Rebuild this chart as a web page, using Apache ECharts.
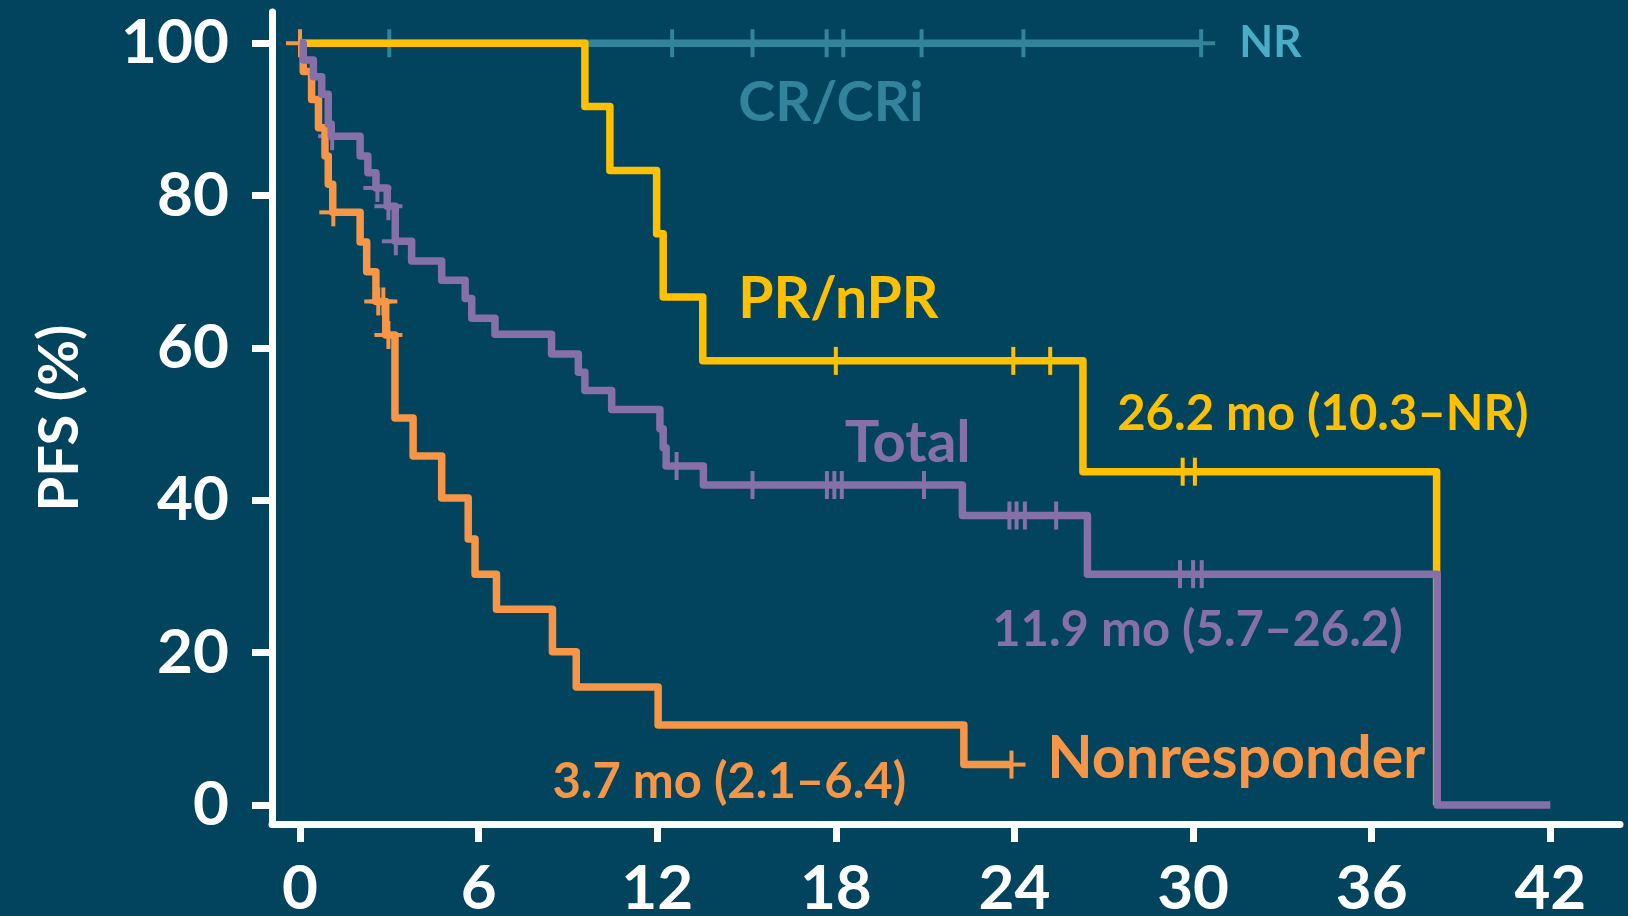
<!DOCTYPE html>
<html>
<head>
<meta charset="utf-8">
<title>PFS by response</title>
<script src="https://cdn.jsdelivr.net/npm/echarts@6/dist/echarts.min.js"></script>
<style>
  html, body { margin: 0; padding: 0; background: #02445E; }
  #chart { width: 1628px; height: 916px; }
</style>
</head>
<body>
<div id="chart"></div>
<script>
// Axis ticks
const monthTicks = [0, 6, 12, 18, 24, 30, 36, 42];
const pfsTicks = [0, 20, 40, 60, 80, 100];

// CR/CRi: no progression events
const crMonths = [0, 30.27];
const crPfs = [100, 100];
const crCensored = [3.0, 12.5, 15.2, 17.69, 18.25, 20.88, 24.3, 30.27];

// PR/nPR
const prMonths = [0, 9.57, 10.41, 11.98, 12.2, 13.53, 26.3, 38.18];
const prPfs = [100, 91.7, 83.3, 75.0, 66.7, 58.3, 43.75, 0];
const prCensored = [18.0, 23.96, 25.2, 29.65, 30.06];

// Nonresponder
const nrMonths = [0, 0.11, 0.39, 0.62, 0.84, 0.95, 1.1, 2.02, 2.24, 2.55, 2.88, 3.19, 3.8, 4.76, 5.65, 5.88, 6.6, 8.48, 9.28, 12.03, 22.3, 23.9];
const nrPfs = [100, 96.3, 92.6, 88.9, 85.2, 81.5, 77.8, 73.9, 70.0, 66.1, 61.7, 50.8, 45.8, 40.3, 34.9, 30.3, 25.7, 20.1, 15.5, 10.5, 5.3, 5.3];
const nrCensored = [0, 1.12, 2.63, 2.8, 2.97, 23.9];

// Total
const totalMonths = [0, 0.11, 0.45, 0.73, 0.95, 1.05, 2.02, 2.28, 2.55, 2.93, 3.2, 3.75, 4.76, 5.55, 5.77, 6.55, 8.45, 9.35, 9.57, 10.47, 12.09, 12.2, 12.3, 13.55, 22.25, 26.45, 38.2, 42];
const totalPfs = [100, 97.8, 95.6, 93.3, 89.4, 87.8, 85.2, 83.0, 81.0, 78.6, 74.0, 71.4, 68.9, 66.5, 63.9, 61.8, 59.2, 56.8, 54.4, 51.9, 49.4, 46.9, 44.5, 42.0, 38.0, 30.3, 0, 0];
const totalCensored = [1.08, 2.6, 2.97, 3.22, 12.65, 15.2, 17.7, 17.95, 18.2, 20.96, 23.83, 24.07, 24.35, 25.4, 29.56, 30.0, 30.29];

// Curve labels: text, anchor month, anchor PFS (left edge, vertical middle)
const noteTexts = ['NR', 'CR/CRi', 'PR/nPR', 'Total', '26.2 mo (10.3–NR)', '11.9 mo (5.7–26.2)', 'Nonresponder', '3.7 mo (2.1–6.4)'];
const noteMonths = [31.55, 14.72, 14.72, 18.3, 27.45, 23.25, 25.1, 8.48];
const notePfs = [100.1, 92.1, 66.4, 47.5, 51.3, 22.9, 6.0, 3.0];

const COLORS = {
  cr: '#31849B',
  nrText: '#4BACC6',
  pr: '#FFC000',
  non: '#F79646',
  total: '#8570A8'
};
const noteColors = [COLORS.nrText, COLORS.cr, COLORS.pr, COLORS.total, COLORS.pr, COLORS.total, COLORS.non, COLORS.non];
const noteSizes = [44, 56, 57, 58, 49, 49, 59, 49];

const FONT = 'Lato, "Open Sans", sans-serif';

function zip(xs, ys) { return xs.map((x, i) => [x, ys[i]]); }

// PFS value of a step curve at a given month
function levelAt(months, pfs, t) {
  let v = pfs[0];
  for (let i = 0; i < months.length; i++) { if (months[i] <= t) v = pfs[i]; }
  return v;
}

function curve(name, months, pfs, color) {
  return {
    name, type: 'line', step: 'end', showSymbol: false, silent: true,
    data: zip(months, pfs),
    lineStyle: { color, width: 7.5, join: 'round', cap: 'butt' },
    z: 3
  };
}

function censorMarks(name, months, pfs, times, color) {
  return {
    name: name + ' censored', type: 'custom', silent: true,
    data: times.map(t => [t, levelAt(months, pfs, t)]),
    encode: { x: 0, y: 1 },
    z: 3,
    renderItem(params, api) {
      const p = api.coord([api.value(0), api.value(1)]);
      const st = { stroke: color, lineWidth: 4 };
      return {
        type: 'group',
        children: [
          { type: 'line', shape: { x1: p[0] - 14, y1: p[1], x2: p[0] + 14, y2: p[1] }, style: st },
          { type: 'line', shape: { x1: p[0], y1: p[1] - 14, x2: p[0], y2: p[1] + 14 }, style: st }
        ]
      };
    }
  };
}

const chart = echarts.init(document.getElementById('chart'), null, { renderer: 'canvas' });

const axisFont = { color: '#FFFFFF', fontFamily: FONT, fontWeight: 'bold', fontSize: 62 };

chart.setOption({
  animation: false,
  backgroundColor: '#02445E',
  grid: { left: 272, right: 8, top: 12, bottom: 92, containLabel: false, outerBoundsMode: 'none' },
  xAxis: {
    type: 'value', min: -0.94, max: 44.34,
    axisLine: { onZero: false, lineStyle: { color: '#FFFFFF', width: 7 } },
    axisTick: { customValues: monthTicks, length: 18, lineStyle: { color: '#FFFFFF', width: 7 } },
    axisLabel: Object.assign({ customValues: monthTicks, margin: 34 }, axisFont),
    splitLine: { show: false }
  },
  yAxis: {
    type: 'value', min: -2.5, max: 104.1,
    name: 'PFS (%)', nameLocation: 'middle', nameRotate: 90, nameGap: 184,
    nameTextStyle: { color: '#FFFFFF', fontFamily: FONT, fontWeight: 'bold', fontSize: 56 },
    axisLine: { onZero: false, lineStyle: { color: '#FFFFFF', width: 7 } },
    axisTick: { customValues: pfsTicks, length: 20, lineStyle: { color: '#FFFFFF', width: 7 } },
    axisLabel: Object.assign({ customValues: pfsTicks, margin: 43 }, axisFont),
    splitLine: { show: false }
  },
  series: [
    curve('CR/CRi', crMonths, crPfs, COLORS.cr),
    censorMarks('CR/CRi', crMonths, crPfs, crCensored, COLORS.cr),
    curve('PR/nPR', prMonths, prPfs, COLORS.pr),
    censorMarks('PR/nPR', prMonths, prPfs, prCensored, COLORS.pr),
    curve('Nonresponder', nrMonths, nrPfs, COLORS.non),
    censorMarks('Nonresponder', nrMonths, nrPfs, nrCensored, COLORS.non),
    curve('Total', totalMonths, totalPfs, COLORS.total),
    censorMarks('Total', totalMonths, totalPfs, totalCensored, COLORS.total)
  ]
});

// Curve labels placed at data anchors
chart.setOption({
  graphic: noteTexts.map((text, i) => {
    const p = chart.convertToPixel({ gridIndex: 0 }, [noteMonths[i], notePfs[i]]);
    return {
      type: 'text', x: p[0], y: p[1], silent: true,
      style: {
        text, fill: noteColors[i], fontFamily: FONT, fontWeight: 'bold',
        fontSize: noteSizes[i], align: 'left', verticalAlign: 'middle'
      },
      z: 10
    };
  })
});
</script>
</body>
</html>
